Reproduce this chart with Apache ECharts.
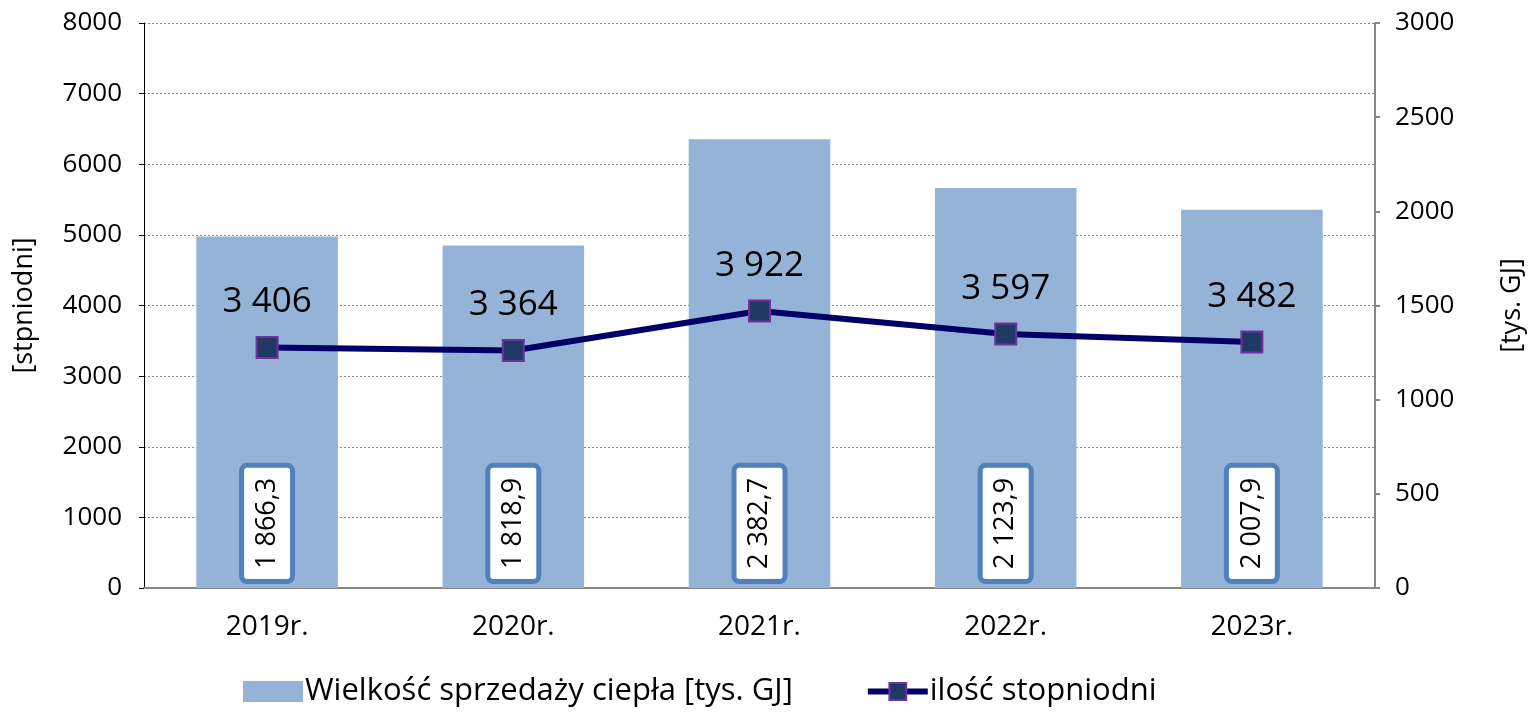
<!DOCTYPE html>
<html>
<head>
<meta charset="utf-8">
<script src="https://cdn.jsdelivr.net/npm/echarts@6/dist/echarts.min.js"></script>
<style>
html,body{margin:0;padding:0;background:#fff;}
#chart{width:1534px;height:713px;}
</style>
</head>
<body>
<div id="chart"></div>
<script>
const categories = ['2019r.', '2020r.', '2021r.', '2022r.', '2023r.'];
const salesValues = [1866.3, 1818.9, 2382.7, 2123.9, 2007.9];
const degreeDays = [3406, 3364, 3922, 3597, 3482];
const salesName = 'Wielkość sprzedaży ciepła [tys. GJ]';
const degreeName = 'ilość stopniodni';
const leftAxisName = '[stpniodni]';
const rightAxisName = '[tys. GJ]';

const FONT = '"Open Sans", sans-serif';

function fmt(v, dec) {
  const parts = v.toFixed(dec).split('.');
  parts[0] = parts[0].replace(/\B(?=(\d{3})+(?!\d))/g, ' ');
  return parts.join(',');
}

const chart = echarts.init(document.getElementById('chart'));
chart.setOption({
  animation: false,
  textStyle: { fontFamily: FONT },
  grid: { left: 144, right: 156, top: 23, bottom: 125, containLabel: false },
  legend: {
    bottom: 1,
    left: 238,
    itemGap: 72,
    itemWidth: 60,
    itemHeight: 21,
    textStyle: { fontFamily: FONT, fontSize: 31, color: '#000', padding: [0, 0, 0, -3] },
    data: [
      { name: salesName, icon: 'rect' },
      { name: degreeName, lineStyle: { width: 6, color: '#000066' } }
    ]
  },
  xAxis: {
    type: 'category',
    data: categories,
    axisLine: { lineStyle: { color: '#868686', width: 2 } },
    axisTick: { show: false },
    axisLabel: { color: '#000', fontSize: 28, fontFamily: FONT, margin: 25 }
  },
  yAxis: [
    {
      type: 'value',
      min: 0, max: 8000, interval: 1000,
      name: leftAxisName,
      nameLocation: 'middle',
      nameRotate: 90,
      nameGap: 106,
      nameTextStyle: { fontSize: 27, color: '#000', fontFamily: FONT },
      axisLine: { show: true, lineStyle: { color: '#000', width: 1 } },
      axisTick: { show: true, length: 5, lineStyle: { color: '#000' } },
      axisLabel: { color: '#000', fontSize: 26, fontFamily: FONT, margin: 22, formatter: v => String(v) },
      splitLine: { show: true, lineStyle: { color: '#868686', type: [2, 2], width: 1 } }
    },
    {
      type: 'value',
      min: 0, max: 3000, interval: 500,
      name: rightAxisName,
      nameLocation: 'middle',
      nameRotate: 90,
      nameGap: 124,
      nameTextStyle: { fontSize: 27, color: '#000', fontFamily: FONT },
      axisLine: { show: true, lineStyle: { color: '#868686', width: 2 } },
      axisTick: { show: true, length: 5, lineStyle: { color: '#868686', width: 2 } },
      axisLabel: { color: '#000', fontSize: 26, fontFamily: FONT, margin: 20, formatter: v => String(v) },
      splitLine: { show: false }
    }
  ],
  series: [
    {
      name: salesName,
      type: 'bar',
      yAxisIndex: 1,
      data: salesValues,
      barWidth: '57.5%',
      itemStyle: { color: '#95B3D7' },
      label: {
        show: true,
        position: 'insideBottom',
        rotate: 90,
        align: 'left',
        verticalAlign: 'middle',
        distance: 9,
        formatter: p => fmt(p.value, 1),
        color: '#000',
        fontSize: 27,
        fontFamily: FONT,
        backgroundColor: '#fff',
        borderColor: '#4F81BD',
        borderWidth: 5,
        borderRadius: 3,
        padding: [10, 10, 9, 10]
      },
      z: 2
    },
    {
      name: degreeName,
      type: 'line',
      yAxisIndex: 0,
      data: degreeDays,
      lineStyle: { color: '#000066', width: 6 },
      symbol: 'rect',
      symbolSize: 21,
      itemStyle: { color: '#1F3864', borderColor: '#7030A0', borderWidth: 2 },
      label: {
        show: true,
        position: 'top',
        distance: 16,
        formatter: p => fmt(p.value, 0),
        color: '#000',
        fontSize: 35,
        fontFamily: FONT
      },
      z: 5
    }
  ]
});
</script>
</body>
</html>
